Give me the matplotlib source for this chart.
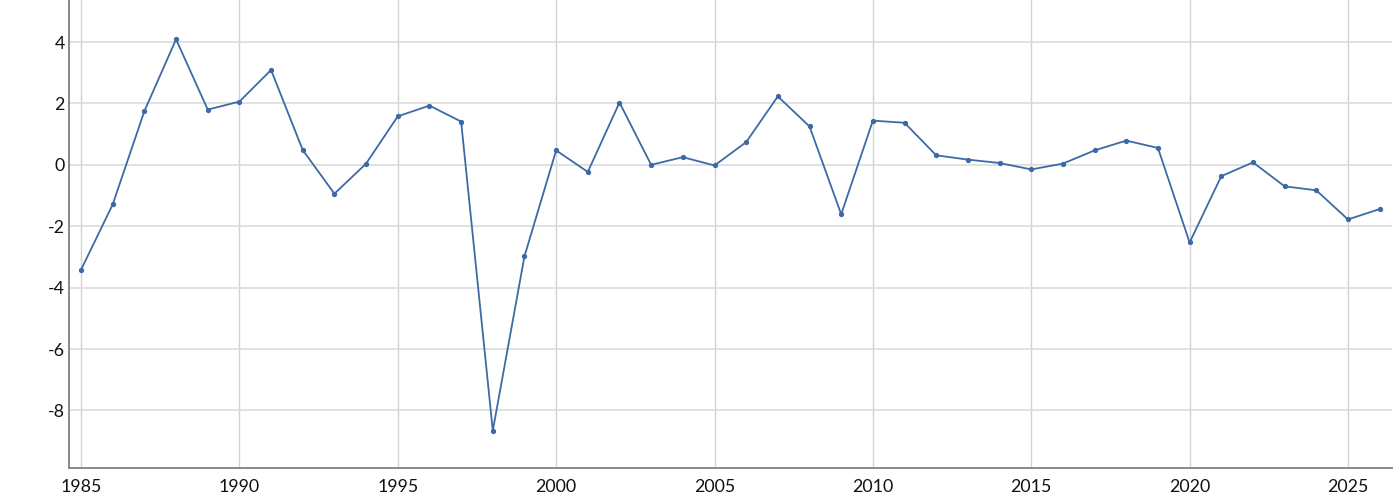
import matplotlib
matplotlib.use("Agg")
import matplotlib.pyplot as plt

years = list(range(1985, 2027))
values = [-3.42, -1.29, 1.75, 4.09, 1.80, 2.06, 3.09, 0.48, -0.94, 0.04,
          1.58, 1.93, 1.41, -8.66, -2.98, 0.47, -0.23, 2.03, 0.00, 0.25,
          -0.02, 0.74, 2.23, 1.25, -1.61, 1.44, 1.37, 0.31, 0.17, 0.06,
          -0.15, 0.04, 0.47, 0.79, 0.55, -2.53, -0.37, 0.08, -0.70, -0.83,
          -1.78, -1.44]
x_ticks = [1985, 1990, 1995, 2000, 2005, 2010, 2015, 2020, 2025]
y_ticks = [-8, -6, -4, -2, 0, 2, 4]

plt.rcParams['font.family'] = ['Lato', 'DejaVu Sans']

fig = plt.figure(figsize=(14, 4.93), dpi=100)
ax = fig.add_axes([69/1400, 1 - 467.5/493, (1392-69)/1400, 467.5/493])

ax.plot(years, values, color='#3d6aa6', linewidth=1.3, marker='o',
        markersize=2.8, zorder=3)

ax.set_xlim(1984.62, 2026.39)
ax.set_ylim(-9.86, 5.37)
ax.set_xticks(x_ticks)
ax.set_yticks(y_ticks)
ax.set_xticklabels([str(t) for t in x_ticks], fontsize=12.8, color='#111111')
ax.set_yticklabels([str(t) for t in y_ticks], fontsize=12.8, color='#111111')
ax.tick_params(axis='y', length=0, pad=3)
ax.tick_params(axis='x', length=0, pad=8)

ax.grid(True, axis='y', color='#dcdcdc', linewidth=1.2)
ax.grid(True, axis='x', color='#d2d2d2', linewidth=1.0)
ax.set_axisbelow(True)

for s in ['top', 'right']:
    ax.spines[s].set_visible(False)
for s in ['left', 'bottom']:
    ax.spines[s].set_color('#808080')
    ax.spines[s].set_linewidth(1.3)

fig.savefig('out.png', dpi=100)
